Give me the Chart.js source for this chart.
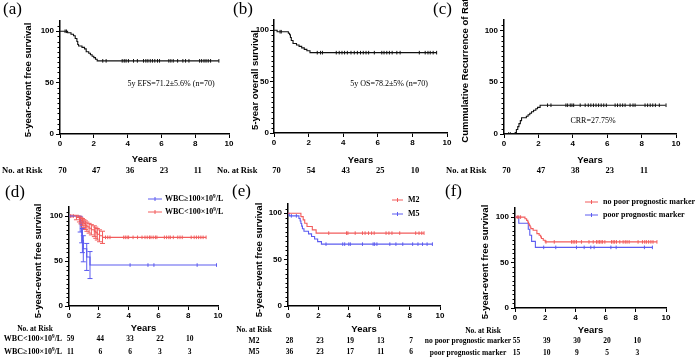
<!DOCTYPE html>
<html><head><meta charset="utf-8">
<script src="https://cdn.jsdelivr.net/npm/chart.js@4.4.1/dist/chart.umd.min.js"></script>
<style>
body{margin:0;background:#fff;width:700px;height:360px;position:relative;overflow:hidden}
canvas{position:absolute;left:0;top:0}
</style></head><body>
<script>
// ---- data ----
const yTicks = [0, 50, 100];
const riskYears = [0, 2, 4, 6, 8];

// (a) EFS
const aTimes = [0, 0.45, 0.65, 0.8, 0.9, 1.0, 1.05, 1.1, 1.3, 1.45, 1.55, 1.7, 1.8, 1.9, 2.0, 2.1, 2.2, 9.4];
const aSurv  = [100, 98.6, 97.1, 95.7, 92.9, 90.0, 87.1, 85.7, 84.3, 82.9, 80.0, 78.6, 77.1, 75.7, 74.3, 72.8, 71.2, 71.2];
const aCens  = [0.3, 0.38, 2.53, 2.73, 3.68, 3.8, 3.91, 4.05, 4.35, 4.58, 4.94, 5.08, 5.2, 5.34, 5.47, 5.61, 5.77, 5.89, 6.44, 6.56, 6.7, 6.96, 7.27, 7.43, 7.63, 8.26, 8.38, 8.52, 8.64, 8.77, 8.91, 9.4];
const aRisk  = [70, 47, 36, 23, 11];

// (b) OS
const bTimes = [0, 0.18, 0.83, 0.9, 0.95, 1.0, 1.1, 1.3, 1.45, 1.6, 1.75, 1.9, 2.08, 9.4];
const bSurv  = [100, 98.6, 97.1, 95.7, 92.9, 90.0, 87.1, 85.7, 84.3, 82.9, 81.4, 80.0, 78.2, 78.2];
const bCens  = [0.35, 0.42, 2.5, 2.69, 2.8, 3.6, 3.77, 3.93, 4.08, 4.24, 4.45, 4.64, 4.82, 5.0, 5.16, 5.32, 5.47, 5.8, 6.23, 6.36, 6.52, 6.67, 6.83, 7.1, 7.29, 8.4, 8.74, 8.9, 9.03, 9.2, 9.4];
const bRisk  = [70, 54, 43, 25, 10];

// (c) cumulative recurrence
const cTimes = [0, 0.65, 0.72, 0.8, 0.87, 0.95, 1.02, 1.3, 1.4, 1.5, 1.6, 1.72, 1.85, 1.95, 2.1, 9.4];
const cRate  = [0, 1.4, 4.3, 7.1, 10.0, 12.9, 15.7, 17.1, 18.6, 20.0, 21.4, 22.9, 24.3, 25.7, 27.75, 27.75];
const cCens  = [0.27, 0.37, 2.53, 2.73, 3.6, 3.7, 3.85, 3.95, 4.05, 4.43, 4.72, 4.9, 5.05, 5.2, 5.35, 5.5, 5.65, 5.8, 5.95, 6.46, 6.6, 6.75, 6.9, 7.04, 7.33, 7.5, 7.62, 8.2, 8.35, 8.5, 8.65, 8.8, 9.03, 9.42];
const cRisk  = [70, 47, 38, 23, 11];

// (d) WBC groups
const dHiTimes = [0, 0.75, 0.85, 0.9, 0.96, 1.19, 1.41, 9.9];
const dHiSurv  = [100, 90.9, 81.8, 72.7, 63.6, 54.5, 45.5, 45.5];
const dHiErr   = [0, 8.7, 11.6, 13.4, 14.5, 15.0, 15.0, 0];
const dHiCens  = [4.1, 5.3, 5.7, 8.6, 9.9];
const dLoTimes = [0, 0.5, 0.7, 0.8, 0.9, 1.0, 1.1, 1.2, 1.35, 1.5, 1.7, 1.8, 1.9, 2.05, 2.25, 9.2];
const dLoSurv  = [100, 98.3, 96.6, 94.9, 93.2, 91.5, 89.8, 88.1, 86.4, 84.7, 83.1, 81.4, 79.7, 78.0, 76.3, 76.3];
const dLoErr   = [0, 2.5, 3.2, 3.6, 4.0, 4.4, 4.8, 5.1, 5.4, 5.7, 6.0, 6.2, 6.4, 6.6, 6.8, 0];
const dLoCens  = [0.1, 0.2, 0.3, 2.45, 2.6, 2.75, 3.67, 3.78, 3.9, 4.0, 4.3, 4.6, 4.9, 5.1, 5.25, 5.4, 5.5, 5.65, 5.8, 5.9, 6.4, 6.55, 6.7, 6.8, 7.0, 7.3, 7.45, 7.6, 8.2, 8.4, 8.55, 8.7, 8.85, 9.0, 9.2];
const dLoRisk  = [59, 44, 33, 22, 10];
const dHiRisk  = [11, 6, 6, 3, 3];

// (e) M2 / M5
const eM2Times = [0, 0.85, 1.0, 1.1, 1.25, 1.6, 1.85, 8.95];
const eM2Surv  = [100, 96.4, 92.9, 89.3, 85.7, 82.1, 78.6, 78.6];
const eM2Cens  = [2.68, 3.85, 3.94, 4.42, 4.9, 5.07, 5.3, 5.5, 5.67, 6.45, 6.64, 6.84, 7.35, 8.4, 8.62, 8.8, 8.95];
const eM5Times = [0, 0.08, 0.72, 0.8, 0.85, 0.9, 0.95, 1.05, 1.35, 1.55, 1.75, 1.95, 2.2, 9.5];
const eM5Surv  = [100, 97.2, 94.4, 91.7, 88.9, 86.1, 83.3, 80.6, 77.8, 75.0, 72.2, 69.4, 66.7, 66.7];
const eM5Cens  = [0.22, 0.55, 2.5, 3.6, 3.73, 4.0, 4.1, 4.9, 5.6, 5.7, 5.85, 6.7, 7.1, 7.55, 8.2, 8.55, 8.85, 9.15, 9.5];
const eM2Risk  = [28, 23, 19, 13, 7];
const eM5Risk  = [36, 23, 17, 11, 6];

// (f) prognostic marker
const fNoTimes = [0, 0.66, 0.77, 0.85, 0.9, 0.95, 1.0, 1.05, 1.2, 1.45, 1.6, 1.7, 1.75, 1.87, 2.0, 9.4];
const fNoSurv  = [100, 98.2, 96.4, 94.5, 92.7, 90.9, 89.1, 87.3, 85.5, 81.8, 80.0, 78.2, 76.4, 74.5, 72.7, 72.7];
const fNoCens  = [0.15, 0.25, 0.37, 2.05, 2.6, 3.74, 3.85, 3.96, 4.07, 4.4, 4.9, 5.18, 5.4, 5.5, 5.6, 5.7, 5.8, 5.95, 6.39, 6.5, 6.6, 6.72, 6.94, 7.16, 7.3, 7.42, 7.56, 8.15, 8.44, 8.59, 8.7, 8.85, 9.0, 9.14, 9.4];
const fPoTimes = [0, 0.25, 0.88, 0.98, 1.1, 1.35, 9.1];
const fPoSurv  = [100, 93.3, 86.7, 80.0, 73.3, 66.7, 66.7];
const fPoCens  = [1.9, 2.7, 4.07, 4.58, 5.02, 5.24, 6.35, 6.7, 8.57, 9.1];
const fNoRisk  = [55, 39, 30, 20, 10];
const fPoRisk  = [15, 10, 9, 5, 3];

const SANS = '"Liberation Sans", Arial, sans-serif';
const SERIF = '"Liberation Serif", "Times New Roman", serif';
const RED = '#f25c5c', BLUE = '#5c5cf0', BLACK = '#111';

// ---- panels ----
const panels = [
 {id:'a', label:'(a)', lx:3, ly:14, area:{l:60,t:21,r:229,b:134}, yTitle:'5-year-event free survival', yt:[28,80], xtY:159,
  series:[{t:aTimes, v:aSurv, cens:aCens, c:BLACK}],
  note:{text:'5y EFS=71.2±5.6% (n=70)', x:171, y:84},
  risk:{hdr:{x:2,y:171,align:'left',size:8.5}, size:8.5, dx:2.5, rows:[{vals:aRisk, y:171}]}},
 {id:'b', label:'(b)', lx:233, ly:14, area:{l:274,t:20,r:447,b:133}, yTitle:'5-year overall survival', yt:[255,80], xtY:160, tickPad:1,
  series:[{t:bTimes, v:bSurv, cens:bCens, c:BLACK}],
  note:{text:'5y OS=78.2±5% (n=70)', x:389, y:84},
  risk:{hdr:{x:217,y:171,align:'left',size:8.5}, size:8.5, dx:2.5, rows:[{vals:bRisk, y:171}]}},
 {id:'c', label:'(c)', lx:433, ly:14, area:{l:504,t:20,r:676,b:134}, yTitle:'Cummulative Recurrence of Rate', yt:[465,68], xtY:160,
  series:[{t:cTimes, v:cRate, cens:cCens, c:BLACK}],
  note:{text:'CRR=27.75%', x:593, y:121},
  risk:{hdr:{x:446,y:171,align:'left',size:8.5}, size:8.5, dx:2.5, rows:[{vals:cRisk, y:171}]}},
 {id:'d', label:'(d)', lx:5, ly:197, area:{l:69,t:207,r:218,b:306}, yTitle:'5-year-event free survival', yt:[38,261], xtY:328,
  series:[{t:dHiTimes, v:dHiSurv, cens:dHiCens, err:dHiErr, c:BLUE}, {t:dLoTimes, v:dLoSurv, cens:dLoCens, err:dLoErr, c:RED}],
  legend:{x0:148, x1:162, tx:165, items:[{c:BLUE, text:'WBC≥100×10^9/L', y:199}, {c:RED, text:'WBC<100×10^9/L', y:212}]},
  risk:{hdr:{x:35,y:329,align:'center',size:7.5}, size:7.5, dx:1.5, lx:33, lsize:8,
        rows:[{label:'WBC<100×10^9/L', vals:dLoRisk, y:339}, {label:'WBC≥100×10^9/L', vals:dHiRisk, y:352}]}},
 {id:'e', label:'(e)', lx:232, ly:196, area:{l:288,t:204,r:440,b:306}, yTitle:'5-year-event free survival', yt:[259,260], xtY:329,
  series:[{t:eM2Times, v:eM2Surv, cens:eM2Cens, c:RED}, {t:eM5Times, v:eM5Surv, cens:eM5Cens, c:BLUE}],
  legend:{x0:392, x1:403, tx:408, items:[{c:RED, text:'M2', y:200}, {c:BLUE, text:'M5', y:214}]},
  risk:{hdr:{x:254,y:330,align:'center',size:7.5}, size:7.5, dx:1.5, lx:254, lsize:7.5,
        rows:[{label:'M2', vals:eM2Risk, y:341}, {label:'M5', vals:eM5Risk, y:352}]}},
 {id:'f', label:'(f)', lx:445, ly:196, area:{l:515,t:208,r:666,b:308}, yTitle:'5-year-event free survival', yt:[485,262], xtY:330,
  series:[{t:fNoTimes, v:fNoSurv, cens:fNoCens, c:RED}, {t:fPoTimes, v:fPoSurv, cens:fPoCens, c:BLUE}],
  legend:{x0:585, x1:598, tx:603, items:[{c:RED, text:'no poor prognostic marker', y:202}, {c:BLUE, text:'poor prognostic marker', y:215}]},
  risk:{hdr:{x:483,y:331,align:'center',size:7.5}, size:7.5, dx:1.5, lx:468, lsize:7.5,
        rows:[{label:'no poor prognostic marker', vals:fNoRisk, y:341}, {label:'poor prognostic marker', vals:fPoRisk, y:353}]}}
];

function stepAt(ts, vs, t){ let v = vs[0]; for (let i=0;i<ts.length;i++){ if (ts[i] <= t) v = vs[i]; } return v; }

// bold serif text with an optional ^x superscript
function richText(ctx, str, x, y, size, align){
  const parts = str.split('^');
  const segs = [{t:parts[0]}];
  if (parts.length > 1){ segs.push({t:parts[1][0], sup:true}); segs.push({t:parts[1].slice(1)}); }
  const fnt = s => `bold ${s.sup ? size*0.65 : size}px ${SERIF}`;
  let w = 0; segs.forEach(s => { ctx.font = fnt(s); s.w = ctx.measureText(s.t).width; w += s.w; });
  let cx = align==='center' ? x - w/2 : align==='right' ? x - w : x;
  ctx.textAlign = 'left';
  segs.forEach(s => { ctx.font = fnt(s); ctx.fillText(s.t, cx, s.sup ? y - size*0.35 : y); cx += s.w; });
}

function extras(p){ return {
  id:'extras_'+p.id,
  afterDatasetsDraw(ch){
    const ctx = ch.ctx, xs = ch.scales.x, ys = ch.scales.y;
    ctx.save(); ctx.lineWidth = 1;
    p.series.forEach(s => {
      if (!s.err) return;
      ctx.strokeStyle = s.c;
      s.t.forEach((t,i) => {
        if (!s.err[i]) return;
        const x = xs.getPixelForValue(t), y0 = ys.getPixelForValue(s.v[i]-s.err[i]), y1 = ys.getPixelForValue(s.v[i]+s.err[i]);
        ctx.beginPath(); ctx.moveTo(x,y0); ctx.lineTo(x,y1);
        ctx.moveTo(x-2.5,y0); ctx.lineTo(x+2.5,y0); ctx.moveTo(x-2.5,y1); ctx.lineTo(x+2.5,y1); ctx.stroke();
      });
    });
    ctx.restore();
  },
  afterDraw(ch){
    const ctx = ch.ctx, xs = ch.scales.x, ys = ch.scales.y, A = ch.chartArea;
    ctx.save(); ctx.fillStyle = '#000'; ctx.strokeStyle = '#000';
    // minor y ticks
    ctx.lineWidth = 1; ctx.beginPath();
    for (let v=5; v<110; v+=5){ if (v%50===0) continue; const y = Math.round(ys.getPixelForValue(v))+0.5; ctx.moveTo(A.left-2.5,y); ctx.lineTo(A.left,y); }
    ctx.stroke();
    ctx.textBaseline = 'alphabetic';
    ctx.font = `17px ${SERIF}`; ctx.textAlign = 'left'; ctx.fillText(p.label, p.lx, p.ly);
    ctx.textBaseline = 'middle';
    // axis titles
    ctx.save(); ctx.translate(p.yt[0], p.yt[1]); ctx.rotate(-Math.PI/2);
    ctx.font = `bold 9.5px ${SANS}`; ctx.textAlign = 'center'; ctx.fillText(p.yTitle, 0, 0); ctx.restore();
    ctx.font = `bold 9.5px ${SANS}`; ctx.textAlign = 'center'; ctx.fillText('Years', (A.left+A.right)/2, p.xtY);
    if (p.note){ ctx.font = `8px ${SERIF}`; ctx.fillText(p.note.text, p.note.x, p.note.y); }
    if (p.legend){
      const L = p.legend;
      L.items.forEach(it => {
        ctx.strokeStyle = it.c; ctx.lineWidth = 1;
        ctx.beginPath(); ctx.moveTo(L.x0, it.y); ctx.lineTo(L.x1, it.y);
        const mx = (L.x0+L.x1)/2; ctx.moveTo(mx, it.y-2); ctx.lineTo(mx, it.y+2); ctx.stroke();
        ctx.fillStyle = '#000'; richText(ctx, it.text, L.tx, it.y, 8, 'left');
      });
    }
    const R = p.risk;
    ctx.fillStyle = '#000';
    ctx.font = `bold ${R.hdr.size}px ${SERIF}`; ctx.textAlign = R.hdr.align; ctx.fillText('No. at Risk', R.hdr.x, R.hdr.y);
    R.rows.forEach(r => {
      if (r.label) richText(ctx, r.label, R.lx, r.y, R.lsize, 'center');
      ctx.font = `bold ${R.size}px ${SERIF}`; ctx.textAlign = 'center';
      r.vals.forEach((n,i) => ctx.fillText(String(n), xs.getPixelForValue(riskYears[i]) + R.dx, r.y));
    });
    ctx.restore();
  }
}; }

function makePanel(p){
  const cv = document.createElement('canvas'); cv.width = 700; cv.height = 360; document.body.appendChild(cv);
  const A = p.area, ds = [];
  p.series.forEach(s => {
    ds.push({data: s.t.map((t,i)=>({x:t, y:s.v[i]})), stepped:'before', borderColor:s.c, borderWidth:1.1, pointRadius:0, fill:false});
    ds.push({data: s.cens.map(t=>({x:t, y:stepAt(s.t, s.v, t)})), showLine:false, pointStyle:'line', rotation:90, pointRadius:1.8, borderColor:s.c, borderWidth:1});
  });
  const axisFont = {family:SANS, size:8, weight:'bold'};
  new Chart(cv, {
    type:'line', data:{datasets:ds},
    options:{
      responsive:false, animation:false, events:[],
      layout:{padding:{left:0, top:A.t, right:700-A.r, bottom:360-A.b-20}},
      plugins:{legend:{display:false}, tooltip:{enabled:false}},
      scales:{
        x:{type:'linear', min:0, max:10, ticks:{stepSize:2, font:axisFont, color:'#000', padding:1, maxRotation:0},
           grid:{drawOnChartArea:false, tickLength:4, color:'#000', lineWidth:1}, border:{color:'#000', width:1.5},
           afterFit:s=>{ s.height = 20; }},
        y:{type:'linear', min:0, max:110, afterBuildTicks:s=>{ s.ticks = yTicks.map(v=>({value:v})); },
           ticks:{font:axisFont, color:'#000', padding:(p.tickPad ?? 2)},
           grid:{drawOnChartArea:false, tickLength:4, color:'#000', lineWidth:1}, border:{color:'#000', width:1.5},
           afterFit:s=>{ s.width = A.l; }}
      }
    },
    plugins:[extras(p)]
  });
}
panels.forEach(makePanel);
</script>
</body></html>
